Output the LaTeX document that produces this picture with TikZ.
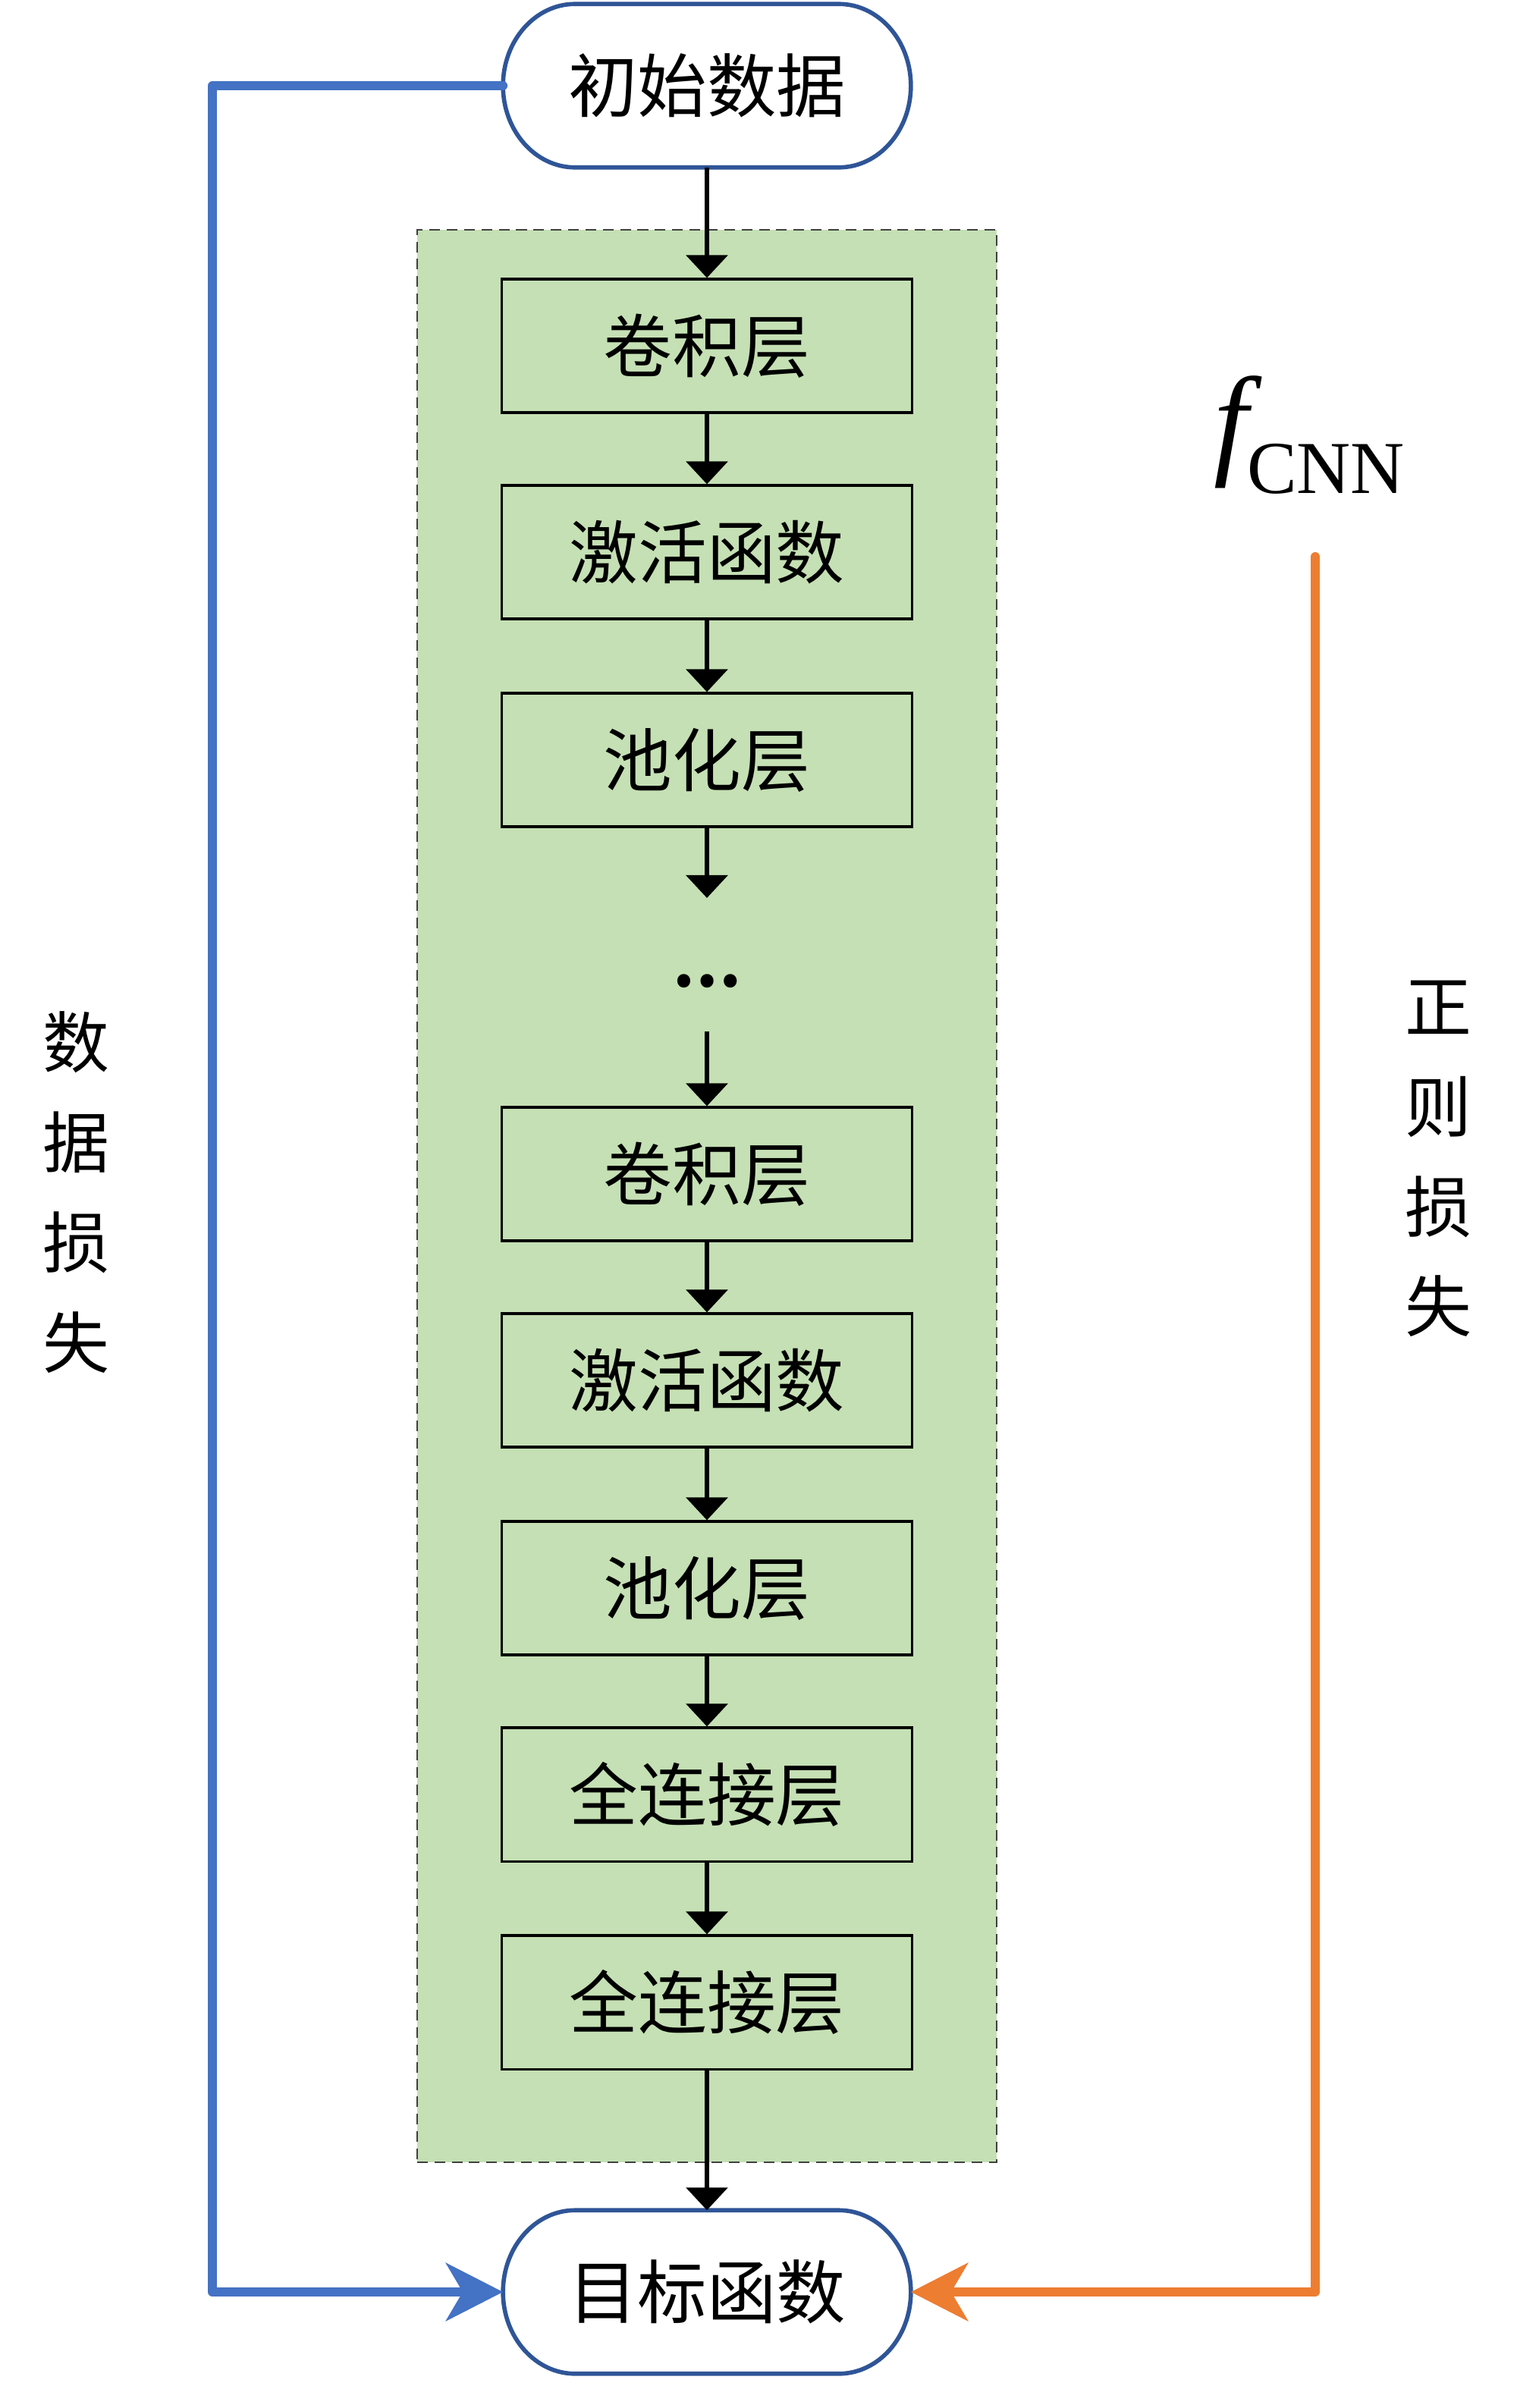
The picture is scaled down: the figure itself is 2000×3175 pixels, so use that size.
\documentclass[tikz,border=0pt]{standalone}
\usepackage{fontspec}
\newfontfamily\cjk{Noto Sans CJK SC}
\newfontfamily\tnr{Liberation Serif}
\usetikzlibrary{arrows.meta,calc}
\definecolor{gfill}{HTML}{C5E0B4}
\definecolor{bline}{HTML}{4472C4}
\definecolor{tborder}{HTML}{2F5597}
\definecolor{oline}{HTML}{ED7D31}
\newcommand\termoutline[1]{%
 \draw[termline] ($(#1.north west)+(95,0)$) -- ($(#1.north east)+(-95,0)$)
   .. controls ($(#1.north east)+(-43,0)$) and ($(#1.east)+(0,-60)$) .. (#1.east)
   .. controls ($(#1.east)+(0,60)$) and ($(#1.south east)+(-43,0)$) .. ($(#1.south east)+(-95,0)$)
   -- ($(#1.south west)+(95,0)$)
   .. controls ($(#1.south west)+(43,0)$) and ($(#1.west)+(0,60)$) .. (#1.west)
   .. controls ($(#1.west)+(0,-60)$) and ($(#1.north west)+(43,0)$) .. cycle;}
\begin{document}
\begin{tikzpicture}[x=0.01cm,y=-0.01cm,
  layer/.style={draw=black, line width=0.9pt, fill=gfill, minimum width=5.4cm, minimum height=1.76cm, inner sep=0pt, font=\cjk\fontsize{25.8}{30}\selectfont},
  term/.style={minimum width=5.36cm, minimum height=2.14cm, inner sep=0pt, font=\cjk\fontsize{26}{30}\selectfont},
  termline/.style={draw=tborder, line width=1.6pt, line join=round},
  flow/.style={line width=1.9pt, -{Triangle[width=0.54cm,length=0.3cm]}},
  groupbox/.style={fill=gfill, draw=black!75, line width=0.6pt, dash pattern=on 4pt off 2.5pt},
  sidelabel/.style={align=center, inner sep=0pt, font=\cjk\fontsize{25}{37.5}\selectfont},
  bluepath/.style={draw=bline, line width=3.4pt, line join=round, line cap=round, -{Stealth[length=0.75cm,width=0.76cm,inset=0.22cm]}},
  orangepath/.style={draw=oline, line width=3.4pt, line join=round, line cap=round, -{Stealth[length=0.75cm,width=0.76cm,inset=0.22cm]}}
]
\useasboundingbox (0,0) rectangle (2000,3175);
\fill[white] (0,0) rectangle (2000,3175);
% group background
\node[groupbox, minimum width=7.64cm, minimum height=25.46cm, inner sep=0pt] (grp) at (932,1577) {};
% terminals
\node[term] (top) at (932,113) {初始数据};
\termoutline{top}
\node[term] (bot) at (932,3022) {目标函数};
\termoutline{bot}
% layers
\node[layer] (l1) at (932,456) {卷积层};
\node[layer] (l2) at (932,728) {激活函数};
\node[layer] (l3) at (932,1002) {池化层};
\node[inner sep=0pt, font=\cjk\bfseries\fontsize{23}{23}\selectfont] (dots) at (932,1294) {…};
\node[layer] (l4) at (932,1548) {卷积层};
\node[layer] (l5) at (932,1820) {激活函数};
\node[layer] (l6) at (932,2094) {池化层};
\node[layer] (l7) at (932,2366) {全连接层};
\node[layer] (l8) at (932,2640) {全连接层};
\coordinate (d1) at (932,1184);
\coordinate (d2) at (932,1360);
% flow arrows
\draw[flow] (top.south) -- (l1.north);
\draw[flow] (l1) -- (l2);
\draw[flow] (l2) -- (l3);
\draw[flow] (l3.south) -- (d1);
\draw[flow] (d2) -- (l4.north);
\draw[flow] (l4) -- (l5);
\draw[flow] (l5) -- (l6);
\draw[flow] (l6) -- (l7);
\draw[flow] (l7) -- (l8);
\draw[flow] (l8.south) -- (bot.north);
% loss paths
\coordinate (lcol) at (280,1500);
\coordinate (otop) at (1734,734);
\draw[bluepath] (top.west) -| (lcol) |- (bot.west);
\draw[orangepath] (otop) |- (bot.east);
% labels
\node[sidelabel] (dloss) at (100,1572) {数\\据\\损\\失};
\node[sidelabel] (rloss) at (1896,1528) {正\\则\\损\\失};
\node[anchor=base west, inner sep=0pt, font=\tnr] (fcnn) at (1600,609) {\fontsize{46}{46}\selectfont\itshape f\kern-0.01em\raisebox{-0.41cm}{\upshape\fontsize{28}{28}\selectfont CNN}};
\end{tikzpicture}
\end{document}
